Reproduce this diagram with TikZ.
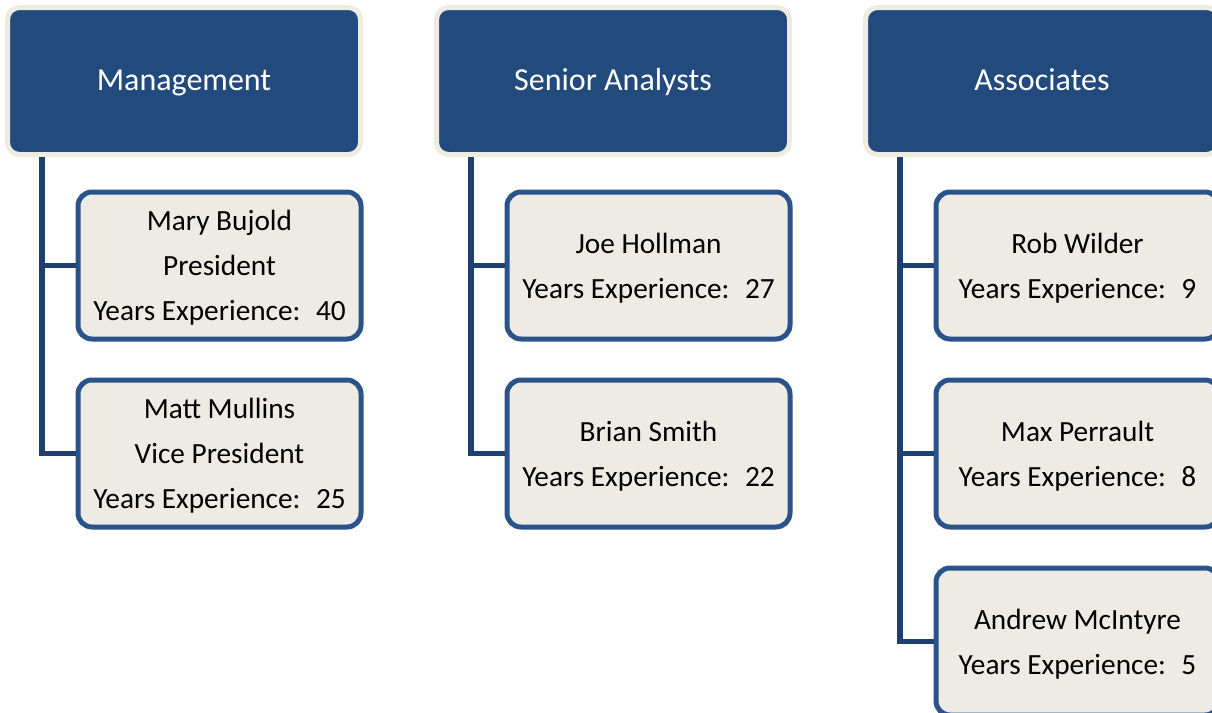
\documentclass[tikz,border=0pt]{standalone}
\usepackage{fontspec}
\setmainfont{Carlito}
\definecolor{hdrblue}{RGB}{34,74,125}
\definecolor{hdrcream}{RGB}{238,236,225}
\definecolor{cardfill}{RGB}{237,235,227}
\definecolor{cardline}{RGB}{42,84,137}
\definecolor{linkblue}{RGB}{30,64,112}

\begin{document}
\begin{tikzpicture}[
    x=1pt, y=-1pt,
    header/.style={draw=hdrcream, fill=hdrblue, line width=5pt, rounded corners=12pt,
        minimum width=353pt, minimum height=147pt, inner sep=0pt, text=white,
        text height=21pt, text depth=3pt, font=\fontsize{32}{38}\selectfont},
    card/.style={draw=cardline, fill=cardfill, line width=5pt, rounded corners=14pt,
        minimum width=283pt, minimum height=147pt, inner sep=0pt, align=center,
        text depth=0pt, font=\fontsize{29.3}{45}\selectfont},
    link/.style={draw=linkblue, line width=5.5pt},
]
\useasboundingbox (0,0) rectangle (1212,712);

% group headers
\node[header] (mgmt) at (184,81) {Management};
\node[header] (senior) at (613,81) {Senior Analysts};
\node[header] (assoc) at (1042,81) {Associates};

% people
\node[card] (mary) at (219.5,265.5) {Mary Bujold\\President\\Years Experience:~ 40};
\node[card] (matt) at (219.5,453.5) {Matt Mullins\\Vice President\\Years Experience:~ 25};
\node[card] (joe) at (648.5,265.5) {Joe Hollman\\Years Experience:~ 27};
\node[card] (brian) at (648.5,453.5) {Brian Smith\\Years Experience:~ 22};
\node[card] (rob) at (1077.5,265.5) {Rob Wilder\\Years Experience:~ 9};
\node[card] (max) at (1077.5,453.5) {Max Perrault\\Years Experience:~ 8};
\node[card] (andrew) at (1077.5,641.5) {Andrew McIntyre\\Years Experience:~ 5};

% connectors
\draw[link] ([xshift=37pt]mgmt.south west) |- (matt.west);
\draw[link] ([xshift=37pt]mgmt.south west) |- (mary.west);
\draw[link] ([xshift=37pt]senior.south west) |- (brian.west);
\draw[link] ([xshift=37pt]senior.south west) |- (joe.west);
\draw[link] ([xshift=37pt]assoc.south west) |- (andrew.west);
\draw[link] ([xshift=37pt]assoc.south west) |- (max.west);
\draw[link] ([xshift=37pt]assoc.south west) |- (rob.west);
\end{tikzpicture}
\end{document}
